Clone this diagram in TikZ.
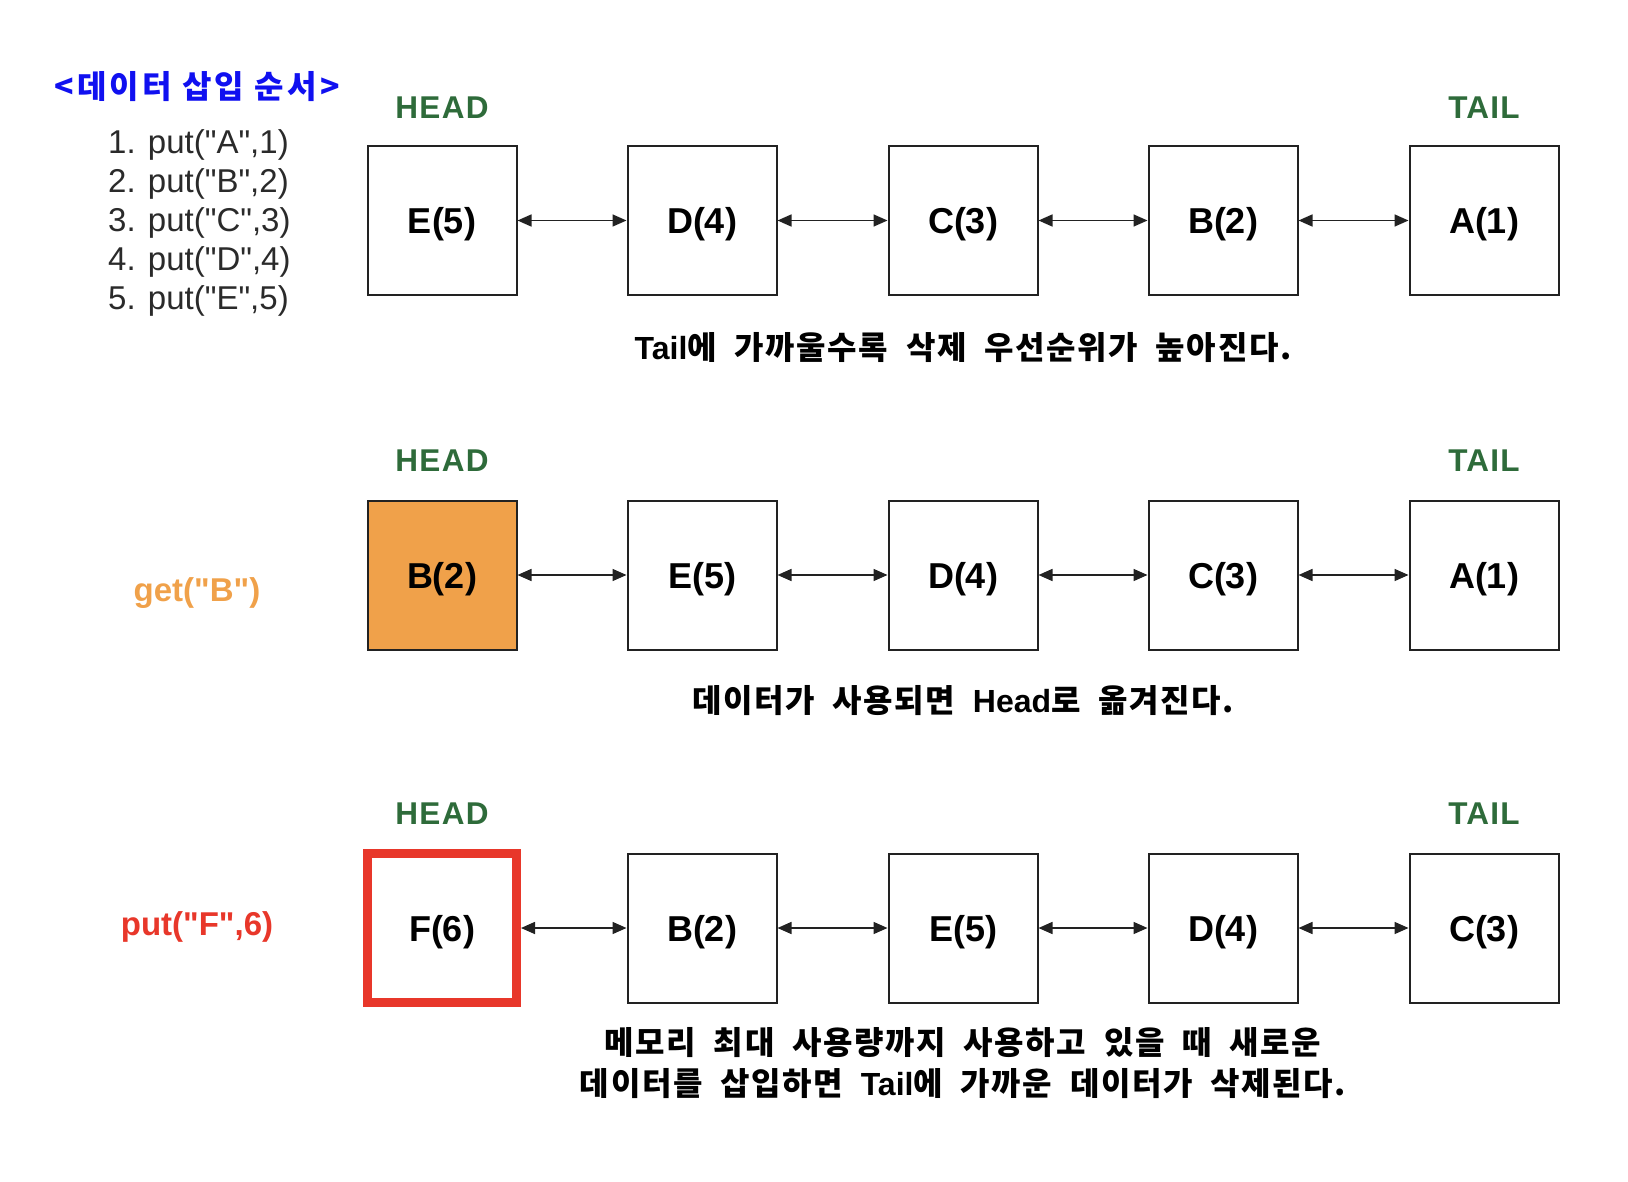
\documentclass[tikz,border=0pt]{standalone}
\usepackage{fontspec}
\setmainfont{Liberation Sans}[Ligatures=TeXOff]
\newfontfamily\widesans{Liberation Sans}[LetterSpace=4]
\newfontfamily\kr{Noto Sans CJK KR}[LetterSpace=5,WordSpace=2.0]
\newfontfamily\krtitle{Noto Sans CJK KR}[LetterSpace=10]
\newfontfamily\latcap{Liberation Sans}
\newcommand{\lw}[1]{{\latcap\bfseries\fontsize{32}{41}\selectfont #1}}
\usetikzlibrary{arrows.meta}
\definecolor{headgreen}{HTML}{2E6B3A}
\definecolor{titleblue}{HTML}{1010F0}
\definecolor{getorange}{HTML}{F0A14A}
\definecolor{putred}{HTML}{E8372A}
\definecolor{listgray}{HTML}{2A2A2A}
\definecolor{boxline}{HTML}{222222}
\tikzset{
  cell/.style={draw=boxline, line width=2pt, minimum width=149pt, minimum height=149pt, inner sep=0pt,
    text height=26pt, text depth=0pt,
    font=\fontsize{36}{43}\selectfont\bfseries},
  endlabel/.style={text=headgreen, font=\widesans\fontsize{31.5}{36}\selectfont\bfseries},
  link/.style={line width=1.6pt, draw=boxline, {Triangle[length=14pt,width=12pt]}-{Triangle[length=14pt,width=12pt]}},
  caption/.style={font=\kr\bfseries\fontsize{32}{41}\selectfont, align=center, inner sep=0pt},
  oplabel/.style={font=\fontsize{33}{40}\selectfont\bfseries, inner sep=0pt}
}
\begin{document}
\begin{tikzpicture}[x=1pt,y=-1pt]
\useasboundingbox (0,0) rectangle (1628,1182);
% left texts
\node[font=\krtitle\bfseries\fontsize{32}{38}\selectfont, text=titleblue, inner sep=0pt] (title) at (197,87) {<데이터 삽입 순서>};
\node[anchor=west, align=left, text=listgray, font=\fontsize{33}{39}\selectfont, inner sep=0pt] (list) at (108,222.5)
  {1. put("A",1)\\2. put("B",2)\\3. put("C",3)\\4. put("D",4)\\5. put("E",5)};
\node[oplabel, text=getorange] (get) at (197,593) {get("B")};
\node[oplabel, text=putred] (put) at (197,927) {put("F",6)};
% row 1
\node[endlabel] (h1) at (442,108) {HEAD};
\node[endlabel] (t1) at (1484,108) {TAIL};
\node[cell] (a1) at (442,220.5) {E(5)};
\node[cell] (a2) at (702,220.5) {D(4)};
\node[cell] (a3) at (963,220.5) {C(3)};
\node[cell] (a4) at (1223,220.5) {B(2)};
\node[cell] (a5) at (1484,220.5) {A(1)};
\draw[link] (a1.east) -- (a2.west);
\draw[link] (a2.east) -- (a3.west);
\draw[link] (a3.east) -- (a4.west);
\draw[link] (a4.east) -- (a5.west);
\node[caption] (c1) at (963,348) {\lw{Tail}에 가까울수록 삭제 우선순위가 높아진다.};
% row 2
\node[endlabel] (h2) at (442,461) {HEAD};
\node[endlabel] (t2) at (1484,461) {TAIL};
\node[cell, fill=getorange] (b1) at (442,575) {B(2)};
\node[cell] (b2) at (702,575) {E(5)};
\node[cell] (b3) at (963,575) {D(4)};
\node[cell] (b4) at (1223,575) {C(3)};
\node[cell] (b5) at (1484,575) {A(1)};
\draw[link] (b1.east) -- (b2.west);
\draw[link] (b2.east) -- (b3.west);
\draw[link] (b3.east) -- (b4.west);
\draw[link] (b4.east) -- (b5.west);
\node[caption] (c2) at (963,701) {데이터가 사용되면 \lw{Head}로 옮겨진다.};
% row 3
\node[endlabel] (h3) at (442,814) {HEAD};
\node[endlabel] (t3) at (1484,814) {TAIL};
\node[cell, draw=putred, line width=9pt] (d1) at (442,928) {F(6)};
\node[cell] (d2) at (702,928) {B(2)};
\node[cell] (d3) at (963,928) {E(5)};
\node[cell] (d4) at (1223,928) {D(4)};
\node[cell] (d5) at (1484,928) {C(3)};
\draw[link] (d1.east) -- (d2.west);
\draw[link] (d2.east) -- (d3.west);
\draw[link] (d3.east) -- (d4.west);
\draw[link] (d4.east) -- (d5.west);
\node[caption] (c3) at (963,1063.5) {메모리 최대 사용량까지 사용하고 있을 때 새로운\\데이터를 삽입하면 \lw{Tail}에 가까운 데이터가 삭제된다.};
\end{tikzpicture}
\end{document}
